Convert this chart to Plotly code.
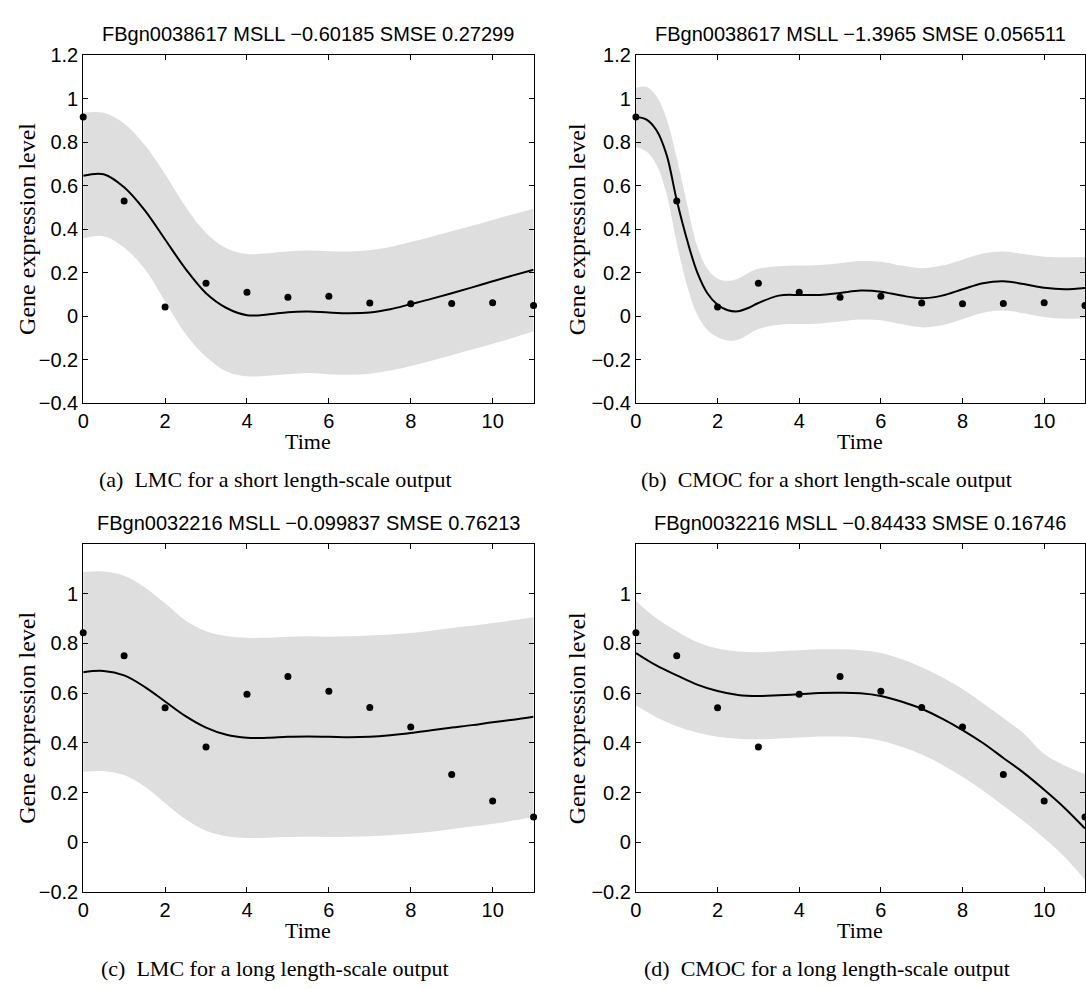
import plotly.graph_objects as go

# ---------------- data ----------------
T_OBS = [0, 1, 2, 3, 4, 5, 6, 7, 8, 9, 10, 11]
OBS_GENE1 = [0.915, 0.529, 0.042, 0.151, 0.109, 0.087, 0.091, 0.060, 0.057, 0.058, 0.061, 0.049]
OBS_GENE2 = [0.843, 0.750, 0.541, 0.383, 0.595, 0.667, 0.607, 0.542, 0.463, 0.272, 0.166, 0.101]

T_HALF = [0, 0.5, 1, 1.5, 2, 2.5, 3, 3.5, 4, 4.5, 5, 5.5, 6, 6.5, 7, 7.5, 8, 8.5, 9, 9.5, 10, 10.5, 11]
T_B = [0, 0.25, 0.5, 0.75, 1, 1.25, 1.5, 1.75, 2, 2.25, 2.5, 2.75, 3,
       3.5, 4, 4.5, 5, 5.5, 6, 6.5, 7, 7.5, 8, 8.5, 9, 9.5, 10, 10.5, 11]

# (a) LMC, short length-scale
MEAN_A = [0.645, 0.652, 0.592, 0.487, 0.352, 0.217, 0.105, 0.037, 0.004, 0.007, 0.018, 0.021,
          0.016, 0.013, 0.016, 0.031, 0.055, 0.079, 0.105, 0.132, 0.160, 0.187, 0.213]
UPPER_A = [0.934, 0.934, 0.885, 0.787, 0.652, 0.502, 0.382, 0.312, 0.285, 0.289, 0.297, 0.301,
           0.298, 0.297, 0.303, 0.318, 0.340, 0.364, 0.390, 0.415, 0.442, 0.468, 0.493]
LOWER_A = [0.357, 0.367, 0.315, 0.217, 0.067, -0.082, -0.187, -0.255, -0.277, -0.274, -0.267, -0.262,
           -0.267, -0.270, -0.265, -0.250, -0.229, -0.205, -0.180, -0.154, -0.127, -0.100, -0.070]

# (b) CMOC, short length-scale
MEAN_B = [0.915, 0.904, 0.855, 0.742, 0.532, 0.352, 0.202, 0.105, 0.052, 0.027, 0.022, 0.037, 0.060,
          0.094, 0.097, 0.097, 0.106, 0.117, 0.112, 0.094, 0.082, 0.094, 0.123, 0.151, 0.160, 0.147,
          0.130, 0.123, 0.129]
UPPER_B = [1.049, 1.054, 1.012, 0.907, 0.727, 0.517, 0.322, 0.217, 0.172, 0.162, 0.172, 0.198, 0.217,
           0.229, 0.232, 0.235, 0.243, 0.253, 0.250, 0.232, 0.220, 0.232, 0.259, 0.288, 0.297, 0.285,
           0.273, 0.270, 0.271]
LOWER_B = [0.777, 0.757, 0.697, 0.562, 0.337, 0.142, 0.007, -0.064, -0.097, -0.112, -0.109, -0.085, -0.060,
           -0.040, -0.037, -0.034, -0.025, -0.016, -0.019, -0.037, -0.052, -0.042, -0.015, 0.015, 0.025,
           0.013, -0.004, -0.012, -0.010]

# (c) LMC, long length-scale
MEAN_C = [0.684, 0.689, 0.671, 0.625, 0.566, 0.507, 0.461, 0.432, 0.420, 0.420, 0.424, 0.425,
          0.424, 0.422, 0.424, 0.430, 0.439, 0.450, 0.461, 0.471, 0.483, 0.493, 0.505]
UPPER_C = [1.087, 1.089, 1.072, 1.026, 0.961, 0.892, 0.849, 0.829, 0.822, 0.822, 0.826, 0.828,
           0.826, 0.828, 0.832, 0.836, 0.842, 0.851, 0.862, 0.871, 0.882, 0.893, 0.905]
LOWER_C = [0.283, 0.286, 0.270, 0.224, 0.158, 0.092, 0.046, 0.024, 0.017, 0.018, 0.021, 0.022,
           0.021, 0.022, 0.024, 0.028, 0.034, 0.042, 0.053, 0.063, 0.074, 0.087, 0.103]

# (d) CMOC, long length-scale
MEAN_D = [0.761, 0.711, 0.671, 0.634, 0.608, 0.592, 0.588, 0.591, 0.595, 0.600, 0.601, 0.599,
          0.588, 0.566, 0.537, 0.497, 0.451, 0.399, 0.339, 0.279, 0.211, 0.138, 0.055]
UPPER_D = [0.971, 0.901, 0.849, 0.805, 0.779, 0.767, 0.764, 0.768, 0.772, 0.776, 0.776, 0.772,
           0.761, 0.737, 0.704, 0.664, 0.616, 0.559, 0.500, 0.437, 0.355, 0.309, 0.274]
LOWER_D = [0.550, 0.503, 0.467, 0.441, 0.424, 0.416, 0.414, 0.417, 0.421, 0.425, 0.425, 0.421,
           0.408, 0.384, 0.353, 0.312, 0.263, 0.208, 0.147, 0.084, 0.016, -0.059, -0.151]

TITLES = ["FBgn0038617 MSLL \u22120.60185 SMSE 0.27299",
          "FBgn0038617 MSLL \u22121.3965 SMSE 0.056511",
          "FBgn0032216 MSLL \u22120.099837 SMSE 0.76213",
          "FBgn0032216 MSLL \u22120.84433 SMSE 0.16746"]
CAPTIONS = ["(a)\u2002LMC for a short length-scale output",
            "(b)\u2002CMOC for a short length-scale output",
            "(c)\u2002LMC for a long length-scale output",
            "(d)\u2002CMOC for a long length-scale output"]
X_TICKS = [0, 2, 4, 6, 8, 10]
Y_TICKS_TOP = [-0.4, -0.2, 0, 0.2, 0.4, 0.6, 0.8, 1, 1.2]
Y_TICKTEXT_TOP = ["\u22120.4", "\u22120.2", "0", "0.2", "0.4", "0.6", "0.8", "1", "1.2"]
Y_TICKS_BOT = [-0.2, 0, 0.2, 0.4, 0.6, 0.8, 1]
Y_TICKTEXT_BOT = ["\u22120.2", "0", "0.2", "0.4", "0.6", "0.8", "1"]

# ---------------- layout helpers ----------------
W, H = 1086, 989
BAND = "rgb(222,222,222)"
SANS = "Liberation Sans, Arial, Helvetica, sans-serif"
SERIF = "Liberation Serif, Times New Roman, serif"

def px(x):
    return x / W

def py(y):
    return 1 - y / H

COLS = [(77.7, 531.0), (634.0, 1086.0)]
ROWS = [(45.0, 401.0), (545.0, 901.0)]
YLABEL_X = [21, 575]
CAP_X = [271, 826]

fig = go.Figure()

panels = [
    (T_HALF, LOWER_A, UPPER_A, MEAN_A, OBS_GENE1),
    (T_B, LOWER_B, UPPER_B, MEAN_B, OBS_GENE1),
    (T_HALF, LOWER_C, UPPER_C, MEAN_C, OBS_GENE2),
    (T_HALF, LOWER_D, UPPER_D, MEAN_D, OBS_GENE2),
]

annotations = []
for i, (t, lo, hi, mu, obs) in enumerate(panels):
    r, c = divmod(i, 2)
    n = "" if i == 0 else str(i + 1)
    xa, ya = "x" + n, "y" + n
    fig.add_trace(go.Scatter(x=t, y=lo, mode="lines", line=dict(width=0, color=BAND, shape="spline"),
                             xaxis=xa, yaxis=ya, showlegend=False, hoverinfo="skip"))
    fig.add_trace(go.Scatter(x=t, y=hi, mode="lines", line=dict(width=0, color=BAND, shape="spline"),
                             fill="tonexty", fillcolor=BAND,
                             xaxis=xa, yaxis=ya, showlegend=False, hoverinfo="skip"))
    fig.add_trace(go.Scatter(x=t, y=mu, mode="lines", line=dict(width=2, color="black", shape="spline"),
                             xaxis=xa, yaxis=ya, showlegend=False))
    fig.add_trace(go.Scatter(x=T_OBS, y=obs, mode="markers", marker=dict(size=7, color="black"),
                             cliponaxis=False, xaxis=xa, yaxis=ya, showlegend=False))

    x0, x1 = COLS[c]
    y0, y1 = ROWS[r]
    common = dict(showline=True, linecolor="black", linewidth=1, mirror="ticks",
                  ticks="inside", ticklen=5, tickwidth=1, tickcolor="black",
                  showgrid=False, zeroline=False,
                  tickfont=dict(family=SANS, size=20, color="black"))
    fig.layout["xaxis" + n] = dict(domain=[px(x0), px(x1)], range=[0, 11], anchor=ya,
                                   tickmode="array", tickvals=X_TICKS, **common)
    if r == 0:
        yt, ytt, yr = Y_TICKS_TOP, Y_TICKTEXT_TOP, [-0.4, 1.2]
    else:
        yt, ytt, yr = Y_TICKS_BOT, Y_TICKTEXT_BOT, [-0.2, 1.2]
    fig.layout["yaxis" + n] = dict(domain=[py(y1), py(y0)], range=yr, anchor=xa,
                                   tickmode="array", tickvals=yt, ticktext=ytt, **common)

    cx = (x0 + x1) / 2
    annotations.append(dict(text=TITLES[i], x=px(cx), y=py(y0 - 21.5), xref="paper", yref="paper",
                            showarrow=False, xanchor="center", yanchor="middle",
                            font=dict(family=SANS, size=20, color="black")))
    annotations.append(dict(text="Gene expression level", x=px(YLABEL_X[c]), y=py((y0 + y1) / 2),
                            xref="paper", yref="paper", showarrow=False, textangle=-90,
                            xanchor="center", yanchor="middle",
                            font=dict(family=SERIF, size=24, color="black")))
    annotations.append(dict(text="Time", x=px(cx), y=py(y1 + 39), xref="paper", yref="paper",
                            showarrow=False, xanchor="center", yanchor="middle",
                            font=dict(family=SERIF, size=22, color="black")))
    annotations.append(dict(text=CAPTIONS[i], x=px(CAP_X[c]), y=py(y1 + 78), xref="paper", yref="paper",
                            showarrow=False, xanchor="center", yanchor="middle",
                            font=dict(family=SERIF, size=22, color="black")))

fig.update_layout(width=W, height=H, margin=dict(l=0, r=0, t=0, b=0),
                  paper_bgcolor="white", plot_bgcolor="white",
                  annotations=annotations, showlegend=False)

fig.write_html("out.html", config={"displayModeBar": False},
               post_script="document.body.style.margin='0';document.body.style.overflow='hidden';")
